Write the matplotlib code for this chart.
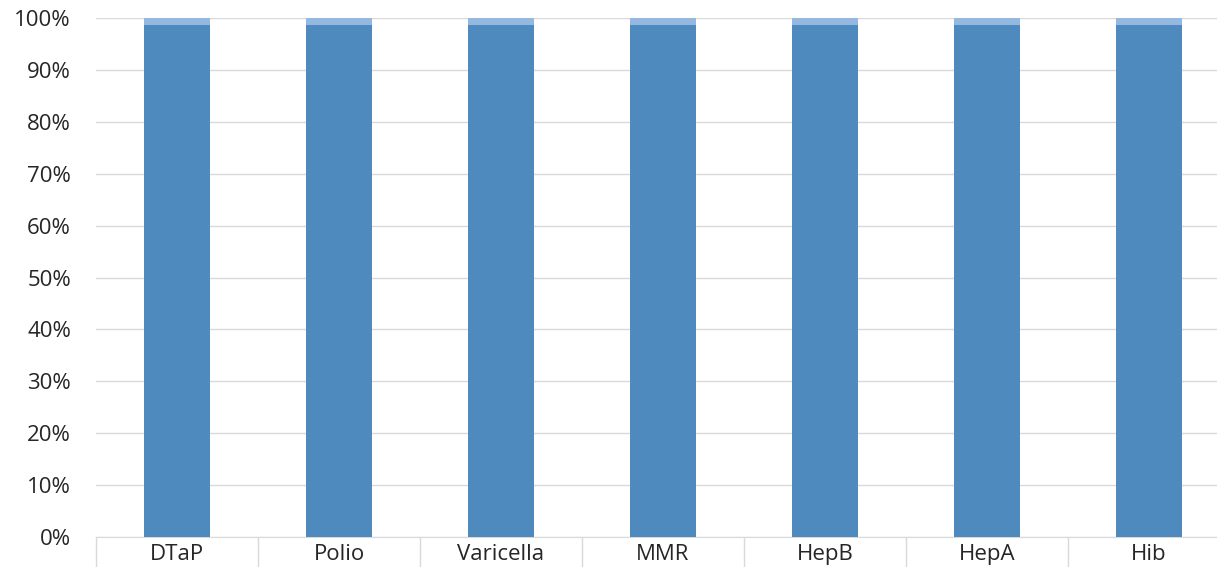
import numpy as np
import matplotlib.pyplot as plt
from matplotlib.ticker import PercentFormatter, FixedLocator

# Vaccination coverage (share of total)
vaccines = ["DTaP", "Polio", "Varicella", "MMR", "HepB", "HepA", "Hib"]
vaccinated = [98.6, 98.6, 98.6, 98.6, 98.6, 98.6, 98.6]
not_vaccinated = [1.4, 1.4, 1.4, 1.4, 1.4, 1.4, 1.4]

plt.rcParams["font.family"] = ["Open Sans", "DejaVu Sans"]

fig = plt.figure(figsize=(12.17, 5.67), dpi=100)
W, H = 1217, 567
x0, x1, y0, y1 = 96, 1230, 537, 18
ax = fig.add_axes([x0 / W, (H - y0) / H, (x1 - x0) / W, (y0 - y1) / H])

x = np.arange(len(vaccines))
ax.bar(x, vaccinated, width=0.41, color="#4F8ABE", zorder=3)
ax.bar(x, not_vaccinated, width=0.41, bottom=vaccinated, color="#95B8E0", zorder=3)

ax.set_xlim(-0.5, len(vaccines) - 0.5)
ax.set_ylim(0, 100)
ax.set_yticks(np.arange(0, 101, 10))
ax.yaxis.set_major_formatter(PercentFormatter(decimals=0))
ax.grid(axis="y", color="#D9D9D9", linewidth=1, zorder=0)

for s in ["left", "right", "top"]:
    ax.spines[s].set_visible(False)
ax.spines["bottom"].set_color("#D9D9D9")

ax.tick_params(axis="y", length=0, pad=18, labelsize=16, labelcolor="#262626")
ax.set_xticks(x)
ax.set_xticklabels(vaccines)
ax.tick_params(axis="x", which="major", length=0, pad=5, labelsize=16, labelcolor="#262626")
ax.xaxis.set_minor_locator(FixedLocator(np.arange(-0.5, len(vaccines), 1)))
ax.tick_params(axis="x", which="minor", length=32, color="#D9D9D9", width=1)

fig.savefig("out.png", dpi=100)
